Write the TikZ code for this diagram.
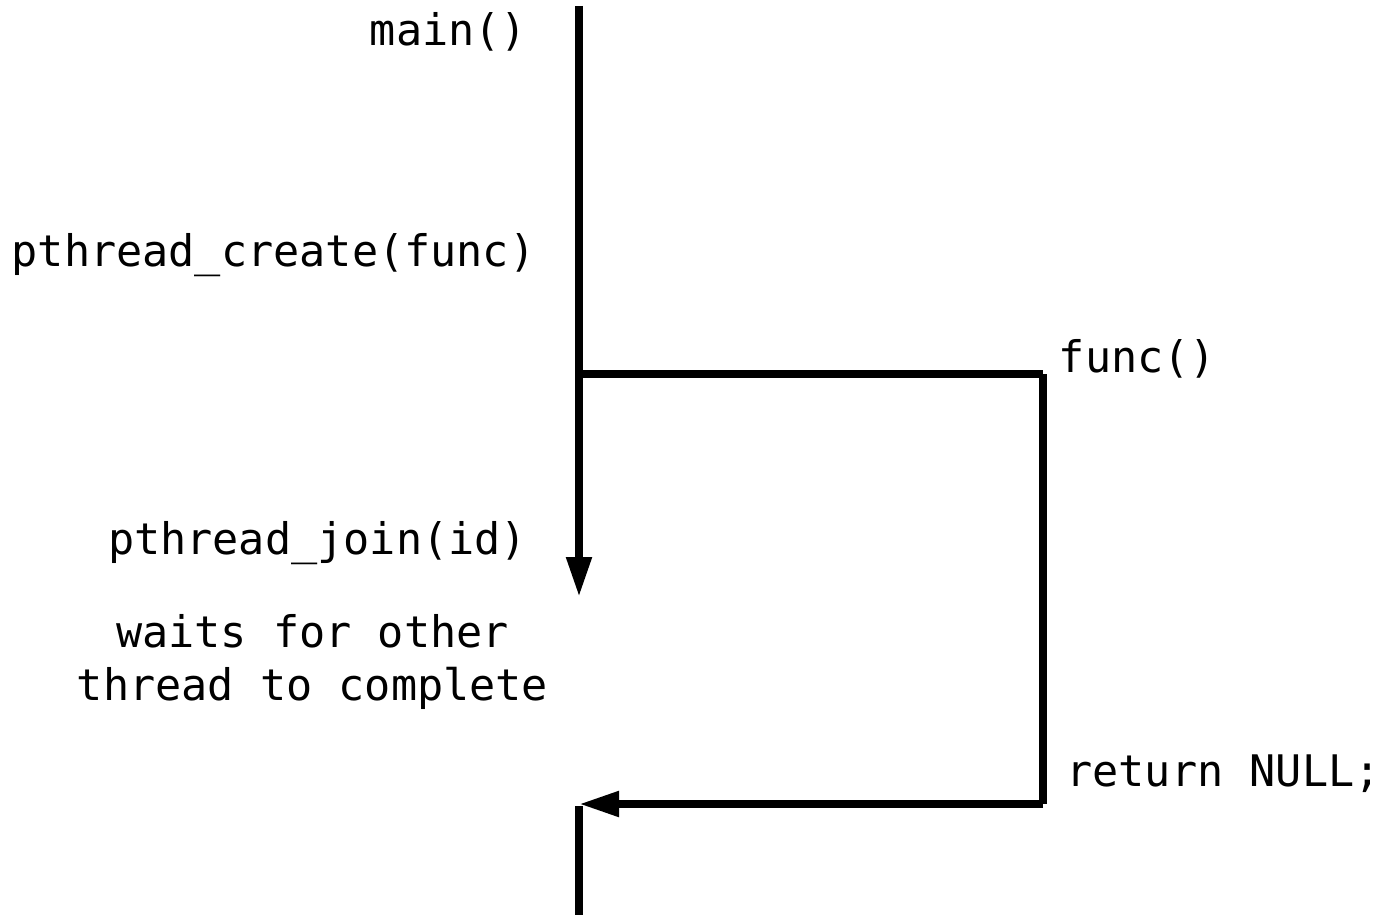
\documentclass[tikz,border=0pt]{standalone}
\usepackage{fontspec}
\setmonofont{DejaVu Sans Mono}
\usetikzlibrary{arrows.meta}
\tikzset{
  thread/.style={line width=0.16cm, line cap=butt},
  call/.style={-{Triangle[length=0.8cm,width=0.48cm]}},
  lbl/.style={font=\ttfamily\fontsize{24.75}{30.2}\selectfont, inner sep=0pt}
}

\begin{document}
\begin{tikzpicture}[x=0.02cm, y=-0.02cm]
			%%%%% START %%%%%
			\useasboundingbox (0, 0) rectangle (1385, 915);
			
			\coordinate (mtop) at (579, 6);
			\coordinate (fork) at (579, 374);
			\coordinate (mjoin) at (579, 597);
			\coordinate (fstart) at (1043, 374);
			\coordinate (fret) at (1043, 804);
			\coordinate (mback) at (579, 804);
			\coordinate (mrest) at (579, 806);
			\coordinate (mend) at (579, 915);
			
			\node[lbl, anchor=base] (lmain) at (448.5, 46) {main()};
			\node[lbl, anchor=base] (lcreate) at (273.5, 267) {pthread\_create(func)};
			\node[lbl, anchor=base] (lfunc) at (1137.5, 372) {func()};
			\node[lbl, anchor=base] (ljoin) at (317.5, 554) {pthread\_join(id)};
			\node[lbl, align=center] (lwait) at (312.5, 662) {waits for other\\thread to complete};
			\node[lbl, anchor=base] (lret) at (1223.5, 786) {return NULL;};
			
			% main thread
			\draw[thread, call] (mtop) -- (mjoin);
			\draw[thread] (mrest) -- (mend);
			
			% second thread
			\draw[thread] (fork) -- (fstart);
			\draw[thread] (fstart) -- (fret);
			\draw[thread, call] (fret) -- (mback);
			
			%%%%% END %%%%%
\end{tikzpicture}
\end{document}
